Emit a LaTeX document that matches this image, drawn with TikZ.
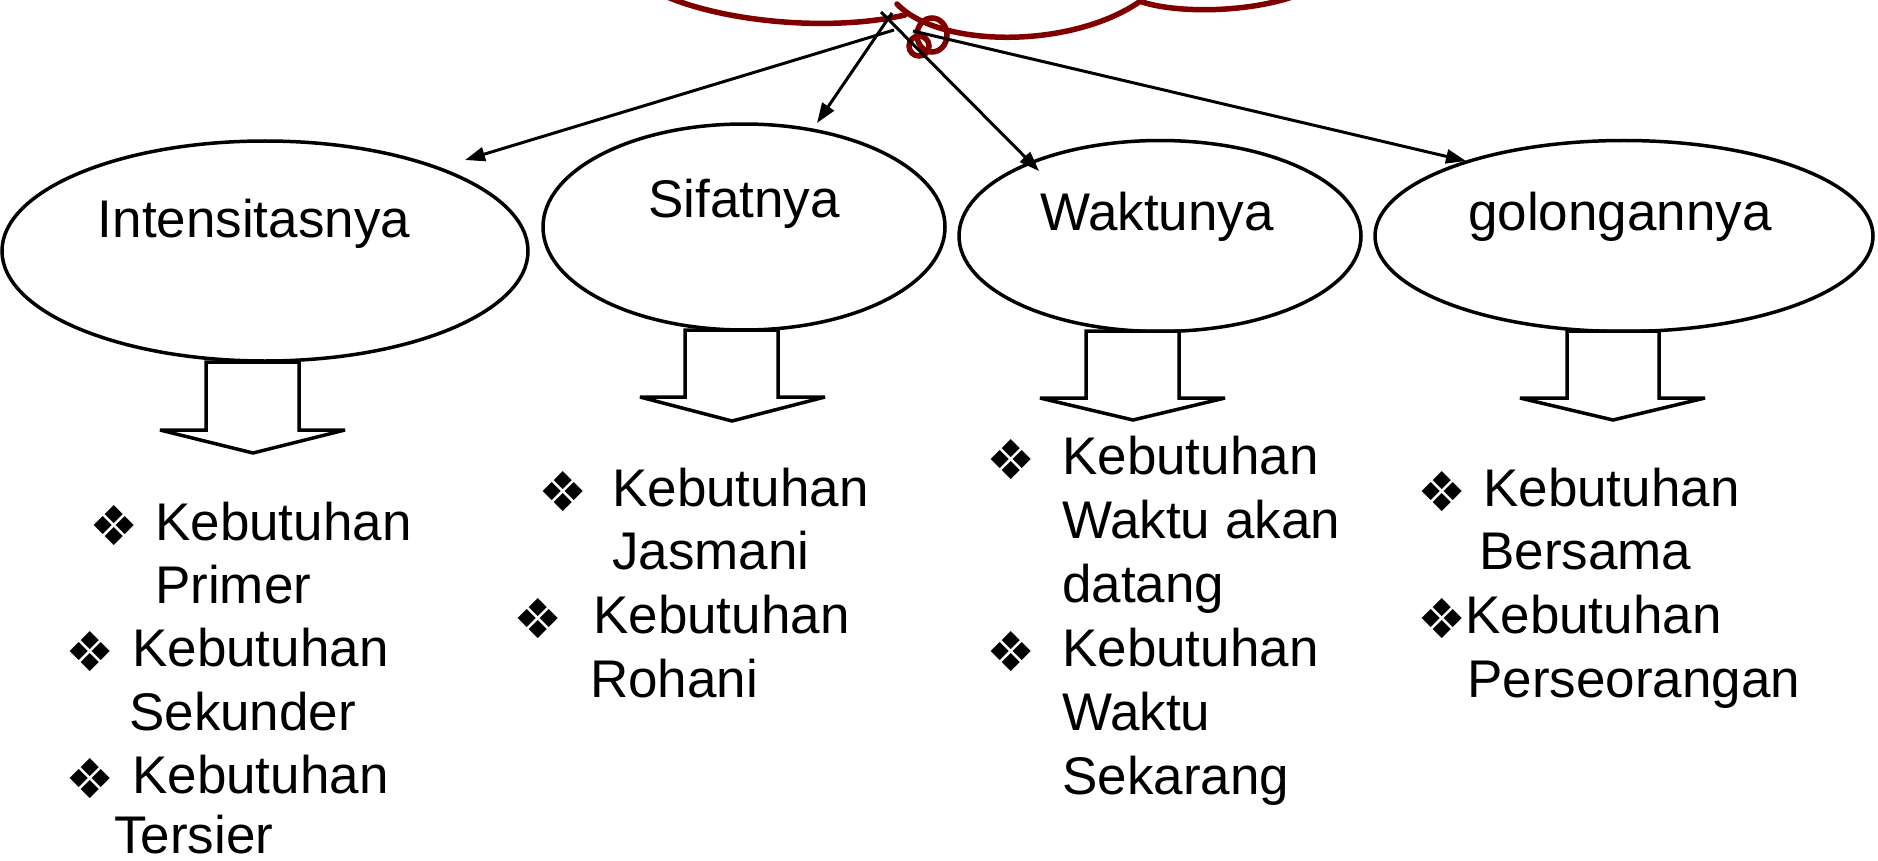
\documentclass[tikz,border=0pt]{standalone}
\usepackage{fontspec}
\setmainfont{Liberation Sans}
\newfontfamily\dvfont{DejaVu Sans}
\usetikzlibrary{shapes.geometric,arrows.meta}
\definecolor{cloudred}{HTML}{800000}
\tikzset{
  oval/.style={draw=black, line width=3.5pt, ellipse, inner sep=0pt},
  lbl/.style={anchor=base, inner sep=0pt, font=\fontsize{53}{64}\selectfont},
  itm/.style={anchor=base west, inner sep=0pt, font=\fontsize{53}{64}\selectfont},
  bul/.style={anchor=base west, inner sep=0pt, yshift=-5pt, xshift=-8pt, font=\dvfont\fontsize{55}{64}\selectfont},
  blockarrow/.style={draw=black, line width=3.5pt, fill=white, line join=miter, miter limit=2},
  link/.style={draw=black, line width=3pt, -{Triangle[length=20pt,width=14pt]}},
  cloudline/.style={draw=cloudred, line width=5.5pt, line cap=round}
}
\begin{document}
\begin{tikzpicture}[x=1pt,y=-1pt]
\useasboundingbox (0,0) rectangle (1878,861);

% cloud fragment at top
\draw[cloudline] (665,-4) .. controls (725,22) and (830,32) .. (905,15);
\draw[cloudline] (897,4) .. controls (940,49) and (1074,49) .. (1142,0);
\draw[cloudline] (1142,2) .. controls (1180,14) and (1250,12) .. (1295,-4);
\draw[cloudline] (932,35) ellipse [x radius=15pt, y radius=17pt];
\draw[cloudline] (919,46) circle [radius=10pt];

% ellipses
\node[oval, minimum width=526pt, minimum height=220pt] (e1) at (265,251) {};
\node[oval, minimum width=402pt, minimum height=206pt] (e2) at (744,227) {};
\node[oval, minimum width=402pt, minimum height=191pt] (e3) at (1160,236) {};
\node[oval, minimum width=498pt, minimum height=191pt] (e4) at (1624,236) {};

\node[lbl] (t1l) at (254,237) {Intensitasnya};
\node[lbl] (t2l) at (744,217) {Sifatnya};
\node[lbl] (t3l) at (1157,230) {Waktunya};
\node[lbl] (t4l) at (1620,230) {golongannya};

% connectors
\coordinate (s1) at (894,30);  \coordinate (d1) at (465,160);
\coordinate (s2) at (892,13);  \coordinate (d2) at (817,123);
\coordinate (s3) at (881,12);  \coordinate (d3) at (1039,171);
\coordinate (s4) at (913,31);  \coordinate (d4) at (1466,161);
\draw[link] (s1) -- (d1);
\draw[link] (s2) -- (d2);
\draw[link] (s3) -- (d3);
\draw[link] (s4) -- (d4);

% block arrows
\draw[blockarrow] (206,362) -- (206,430) -- (160,430) -- (253,453) -- (345,430) -- (299,430) -- (299,362) -- cycle;
\draw[blockarrow] (685,330) -- (685,397) -- (640,397) -- (732,421) -- (825,397) -- (778,397) -- (778,330) -- cycle;
\draw[blockarrow] (1086,331) -- (1086,398) -- (1040,398) -- (1133,420) -- (1225,398) -- (1179,398) -- (1179,331) -- cycle;
\draw[blockarrow] (1567,331) -- (1567,398) -- (1520,398) -- (1613,420) -- (1705,398) -- (1659,398) -- (1659,331) -- cycle;

% block 1
\node[bul] (b1a) at (97,540) {❖};
\node[itm] (k1a) at (155,540) {Kebutuhan};
\node[itm] (k1b) at (155,603) {Primer};
\node[bul] (b1c) at (73,666) {❖};
\node[itm] (k1c) at (132,666) {Kebutuhan};
\node[itm] (k1d) at (129,730) {Sekunder};
\node[bul] (b1e) at (73,793) {❖};
\node[itm] (k1e) at (132,793) {Kebutuhan};
\node[itm] (k1f) at (114,853) {Tersier};

% block 2
\node[bul] (b2a) at (546,506) {❖};
\node[itm] (k2a) at (612,506) {Kebutuhan};
\node[itm] (k2b) at (612,569) {Jasmani};
\node[bul] (b2c) at (521,633) {❖};
\node[itm] (k2c) at (593,633) {Kebutuhan};
\node[itm] (k2d) at (590,697) {Rohani};

% block 3
\node[bul] (b3a) at (994,474) {❖};
\node[itm] (k3a) at (1062,474) {Kebutuhan};
\node[itm] (k3b) at (1062,538) {Waktu akan};
\node[itm] (k3c) at (1062,602) {datang};
\node[bul] (b3d) at (994,666) {❖};
\node[itm] (k3d) at (1062,666) {Kebutuhan};
\node[itm] (k3e) at (1062,730) {Waktu};
\node[itm] (k3f) at (1062,794) {Sekarang};

% block 4
\node[bul] (b4a) at (1425,506) {❖};
\node[itm] (k4a) at (1483,506) {Kebutuhan};
\node[itm] (k4b) at (1479,569) {Bersama};
\node[bul] (b4c) at (1425,633) {❖};
\node[itm] (k4c) at (1465,633) {Kebutuhan};
\node[itm] (k4d) at (1467,697) {Perseorangan};
\end{tikzpicture}
\end{document}
